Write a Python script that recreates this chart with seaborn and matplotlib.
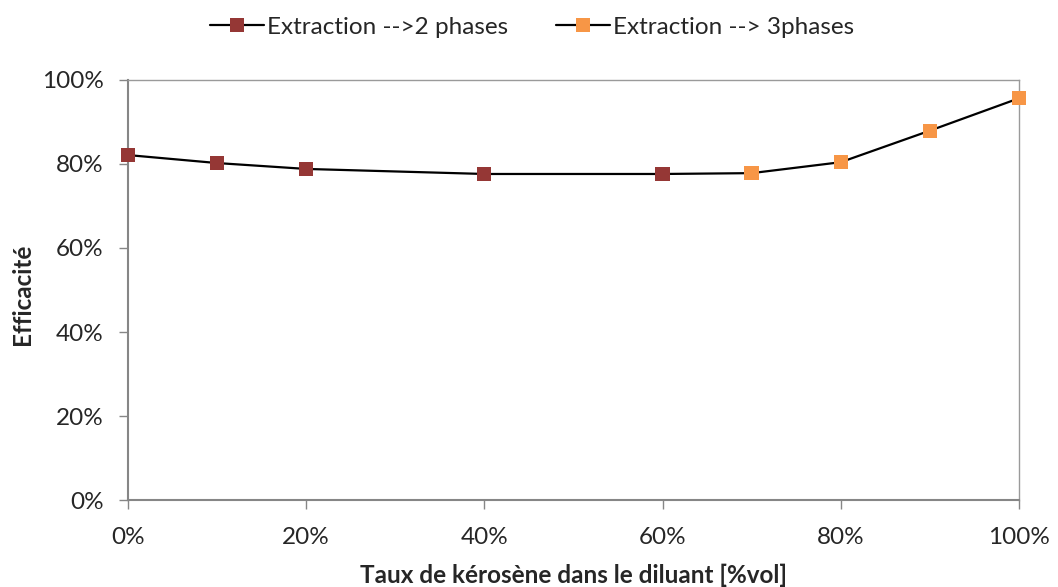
import matplotlib.pyplot as plt
from matplotlib.lines import Line2D
from matplotlib.ticker import PercentFormatter
import pandas as pd
import seaborn as sns

# Data (kerosene share in diluent -> extraction efficiency, %)
x_2phases = [0, 10, 20, 40, 60]
y_2phases = [82.1, 80.2, 78.8, 77.6, 77.6]
x_3phases = [70, 80, 90, 100]
y_3phases = [77.8, 80.4, 87.9, 95.6]
labels = ['Extraction -->2 phases', 'Extraction --> 3phases']
colors = ['#953735', '#F79646']

df = pd.DataFrame({
    'x': x_2phases + x_3phases,
    'y': y_2phases + y_3phases,
    'serie': [labels[0]] * len(x_2phases) + [labels[1]] * len(x_3phases),
})

sns.set_style('white')
plt.rcParams['font.family'] = ['Lato', 'DejaVu Sans']
fs = 17.5

fig = plt.figure(figsize=(10.58, 5.87), dpi=100)
ax = fig.add_axes([0.121, 0.148, 0.842, 0.716])

# one black line through every point, then the coloured square markers
sns.lineplot(data=df, x='x', y='y', color='black', linewidth=1.6, ax=ax, zorder=2)
sns.scatterplot(data=df, x='x', y='y', hue='serie', palette=colors, marker='s',
                s=105, linewidth=0, ax=ax, legend=False, zorder=3)
for art in ax.collections + ax.lines:
    art.set_clip_on(False)

ax.set_xlim(0, 100)
ax.set_ylim(0, 100)
ax.set_xticks(range(0, 101, 20))
ax.set_yticks(range(0, 101, 20))
ax.xaxis.set_major_formatter(PercentFormatter(decimals=0))
ax.yaxis.set_major_formatter(PercentFormatter(decimals=0))
ax.tick_params(axis='both', length=6.5, width=1, color='#868686', labelsize=fs,
               direction='out', bottom=True, left=True)
ax.tick_params(axis='y', pad=11)
ax.tick_params(axis='x', pad=13)
for side in ax.spines.values():
    side.set_color('#9a9a9a')
    side.set_linewidth(1)
ax.spines['left'].set_color('#868686')
ax.spines['bottom'].set_color('#868686')
ax.spines['left'].set_linewidth(1.5)
ax.spines['bottom'].set_linewidth(1.5)

ax.set_xlabel('')
ax.set_ylabel('')
fig.text(0.542, 0.0204, 'Taux de kérosène dans le diluant [%vol]', fontsize=fs,
         fontweight='bold', ha='center', va='center')
fig.text(0.0208, 0.499, 'Efficacité', fontsize=fs, fontweight='bold',
         rotation=90, ha='center', va='center')

handles = [Line2D([0], [0], color='black', linewidth=1.6, marker='s', markersize=10,
                  markerfacecolor=c, markeredgewidth=0) for c in colors]
fig.legend(handles, labels, loc='center', bbox_to_anchor=(0.503, 0.954), ncol=2,
           frameon=False, fontsize=fs, handlelength=2.2, handletextpad=0.12,
           columnspacing=2.0)

fig.savefig('out.png', dpi=100)
